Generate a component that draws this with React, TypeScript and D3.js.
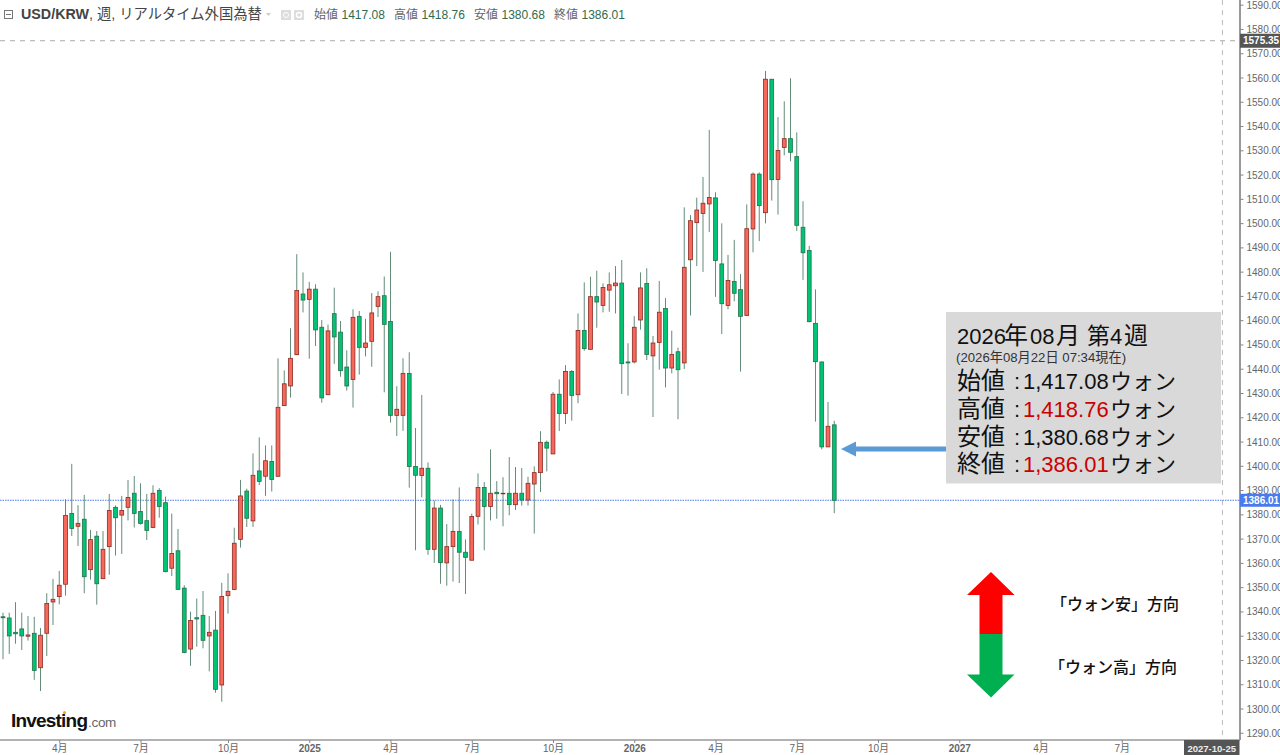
import React from "react";
import * as d3 from "d3";

const opens = [1338,1337.5,1331.6,1333,1330,1331.2,1317,1331.2,1344.1,1346.3,1351.4,1380.6,1375.3,1378.2,1357.4,1371.2,1353.7,1366.9,1383.1,1379.9,1383.1,1388.9,1381.4,1377.6,1374.8,1390,1385,1358,1365.2,1349.8,1324.7,1337.6,1338.6,1330.1,1332.5,1309.9,1346.7,1349.2,1369.9,1389.8,1377.5,1398.1,1395.9,1402,1395.9,1425,1433.1,1446,1471,1468.8,1473,1457.3,1429.5,1462.9,1455.3,1440.9,1435.8,1461.8,1449,1451.5,1465.9,1470.3,1459.7,1421,1421,1438.3,1399.9,1396.2,1399.2,1365.8,1382.8,1360.2,1366.9,1373.2,1364.6,1361.3,1379.4,1391.3,1383.4,1389.3,1388.7,1388.9,1384.2,1388.9,1386.1,1392.7,1397.4,1409.9,1405.1,1429.7,1421.8,1439.1,1429.5,1456,1448.2,1469.9,1466.3,1472.6,1474.4,1475.5,1443,1443,1460.3,1475.3,1445.5,1451,1465,1440.5,1447.2,1442.6,1485.1,1500.4,1504.2,1508.1,1510.6,1483.4,1466.3,1476.2,1472.8,1462.1,1497.8,1520.4,1504.5,1559.5,1518.2,1531.4,1535,1527.6,1498.5,1488.9,1458.9,1443,1408,1417.08];
const closes = [1337.6,1330.1,1331,1330.1,1330.5,1315.9,1330.4,1343.5,1345.2,1351,1379.7,1374.4,1376.5,1354.5,1369.8,1351.6,1365.8,1381.8,1378.8,1381.8,1387.2,1380.6,1376.4,1373.6,1388.9,1383.4,1356.6,1364.1,1349.3,1323.3,1336.5,1337.1,1328.3,1331.6,1308.1,1346.4,1348.5,1368.3,1387.8,1378.6,1396.3,1393.8,1402.3,1394.6,1424.3,1434,1444.5,1472.4,1468.5,1473,1456.2,1428.2,1455.8,1453.3,1439.4,1433.1,1461.4,1449,1450.8,1463.2,1469.9,1458.5,1421,1423.5,1438.3,1399.9,1396.3,1399.2,1365.8,1382.8,1360.3,1366.9,1373.2,1364.6,1362.5,1379.3,1391.3,1383.4,1388.9,1388.7,1388.9,1384.2,1388.9,1386.1,1393,1397.4,1409.9,1407.5,1429.7,1421.8,1439.1,1429.2,1456,1448.5,1469.9,1467.7,1473.7,1474.8,1475.5,1442.3,1442.6,1457.3,1473.5,1446.1,1450.8,1463.5,1440.5,1446.1,1439.8,1482,1501.2,1505.6,1508.4,1510.8,1484.8,1467,1476.6,1471.3,1461.8,1497.9,1520.4,1507.4,1559.5,1518.1,1530.1,1535,1529.4,1499.3,1488,1459.6,1443.1,1408,1416.5,1386.01];
const highs = [1339.7,1339.7,1344,1339.7,1338.3,1338,1333.4,1347.7,1353.6,1356.9,1386.4,1401,1384,1388.2,1373.8,1373.3,1373.3,1388.6,1383.9,1387.8,1394.4,1396,1393,1388.6,1392.2,1391,1387.5,1380.5,1374.2,1351,1340.1,1345.5,1348.6,1338.3,1340.4,1352,1355.9,1374.7,1394.4,1390.8,1405.3,1411.9,1408.6,1408.6,1444.5,1439.5,1456.9,1487.4,1479.9,1476,1475,1460.3,1458.4,1473.6,1459.9,1447.8,1464.7,1464,1460.8,1471.4,1472.1,1478.2,1488.4,1433,1444.5,1447,1415.8,1429.4,1401.6,1385.9,1384.1,1376.2,1386.4,1391.3,1369.9,1380.5,1397.1,1393.5,1407,1393.9,1395.5,1403.8,1399.7,1399.3,1395.7,1400,1414.5,1410.6,1430.6,1435.8,1441.7,1439.7,1463,1475.8,1478.1,1480.6,1475.4,1479.9,1482.5,1485,1450.7,1461.9,1479.9,1481.6,1453.7,1476.4,1469.3,1455.9,1448.9,1506.7,1503.5,1510.7,1519.2,1538.6,1512.9,1500.1,1487.1,1493.3,1479.2,1507.9,1521.1,1521.1,1562.9,1559.5,1543.9,1550.4,1559.9,1537.6,1509.2,1490.8,1472.9,1443.1,1426.5,1418.76];
const lows = [1320.5,1322.7,1326.9,1324.3,1328.2,1312,1307.4,1321.8,1334.6,1343.1,1346.7,1371.3,1367.2,1347.7,1353.3,1343,1353.7,1355.3,1363.2,1363.9,1377.7,1374.8,1376,1369.6,1374.5,1378.8,1356.3,1354.8,1349,1323,1317.8,1325.7,1325,1315.5,1306.7,1303,1339.3,1349,1366.5,1375,1375,1392.3,1387.8,1389.6,1395.6,1424.9,1428.3,1445.8,1463.4,1444.3,1449.6,1426.2,1429.3,1442.2,1436.9,1431.2,1424.2,1437.8,1445.3,1441,1461.5,1430.5,1418,1412.5,1414.6,1391.2,1365.4,1387.2,1363.5,1360.2,1351.6,1350.8,1352.5,1351.9,1347.4,1361.3,1376,1365.4,1377.7,1378.4,1375.3,1379.8,1382,1383.8,1383.8,1372.3,1389.4,1397.9,1405.1,1414.5,1417.4,1418.8,1426,1447.6,1448.2,1457.1,1463.4,1463.7,1463,1429.8,1429.1,1442.4,1456.3,1443.8,1420.3,1439.8,1432.5,1438.3,1419.4,1440.1,1462.1,1482.5,1480.1,1496.5,1469.8,1454.5,1464.7,1468,1439,1462.1,1488.2,1492.8,1500.1,1509.5,1503.7,1528.1,1525.7,1497,1476.8,1459.3,1418.4,1407,1408,1380.68];

const priceTicks = d3.range(1290, 1600, 10);
const timeIdx = [9, 22, 36, 49, 62, 75, 88, 101, 114, 127, 140, 153, 166, 179];
const timeLabels = ["4月", "7月", "10月", "2025", "4月", "7月", "10月", "2026", "4月", "7月", "10月", "2027", "4月", "7月"];
const crossPrice = 1575.35;
const lastPrice = 1386.01;
const crossIdx = 195;
const crossLabel = "2027-10-25";
const infoLines = [
  ["始値", "1,417.08", "#111"],
  ["高値", "1,418.76", "#cc0000"],
  ["安値", "1,380.68", "#111"],
  ["終値", "1,386.01", "#cc0000"],
];
const ohlcLegend = [
  ["始値", "1417.08"],
  ["高値", "1418.76"],
  ["安値", "1380.68"],
  ["終値", "1386.01"],
];

const FONT = '"Liberation Sans", "Noto Sans CJK JP", sans-serif';
const xScale = d3.scaleLinear().domain([0, 133]).range([3, 834.25]);
const yScale = d3.scaleLinear().domain([1560, 1300]).range([78, 709]);
const AX = 1240;
const AY = 740;

export default function App() {
  const up = d3.line()([[991, 572], [1014.5, 595], [1002.5, 595], [1002.5, 634], [979.5, 634], [979.5, 595], [967, 595]]) + "Z";
  const down = d3.line()([[979.5, 634], [1002.5, 634], [1002.5, 674.5], [1014.5, 674.5], [991, 697.5], [967, 674.5], [979.5, 674.5]]) + "Z";
  const blue = d3.line()([[946, 446.5], [856, 446.5], [856, 441.5], [841, 449], [856, 456.5], [856, 451.5], [946, 451.5]]) + "Z";
  const crossX = xScale(crossIdx) + 0.7;
  return (
    <svg width={1280} height={755} style={{ position: "absolute", left: 0, top: 0, background: "#fff" }} fontFamily={FONT}>
      {/* cross lines */}
      <line x1={0} x2={AX} y1={yScale(crossPrice)} y2={yScale(crossPrice)} stroke="#aaa" strokeDasharray="5 5" />
      <line x1={crossX} x2={crossX} y1={0} y2={AY} stroke="#bbb" strokeDasharray="5 5" />
      <line x1={0} x2={AX} y1={yScale(lastPrice)} y2={yScale(lastPrice)} stroke="#4a7bec" strokeDasharray="1.5 1" />

      {/* candles */}
      <g>
        {opens.map((o, i) => {
          const c = closes[i];
          const x = xScale(i);
          const isUp = c >= o;
          const top = yScale(Math.max(o, c));
          const bot = yScale(Math.min(o, c));
          return (
            <g key={i}>
              <line x1={x} x2={x} y1={yScale(highs[i])} y2={yScale(lows[i])} stroke="#3f6f57" strokeOpacity={0.8} strokeWidth={1} />
              <rect x={x - 1.9} y={top} width={3.8} height={Math.max(bot - top, 0.6)}
                fill={isUp ? "#f8685a" : "#00c474"} stroke={isUp ? "#8c2a22" : "#22704c"} strokeWidth={0.8} />
            </g>
          );
        })}
      </g>

      {/* right axis */}
      <line x1={AX} x2={AX} y1={0} y2={AY} stroke="#999" strokeWidth={2} />
      {priceTicks.map((p) => (
        <g key={p}>
          <line x1={AX} x2={AX + 3.5} y1={yScale(p)} y2={yScale(p)} stroke="#888" />
          <text x={AX + 6.5} y={yScale(p) + 3.5} fontSize={10} fill="#666">{p.toFixed(2)}</text>
        </g>
      ))}
      <rect x={AX} y={yScale(crossPrice) - 7} width={40} height={14} fill="#555" />
      <text x={AX + 3} y={yScale(crossPrice) + 3.5} fontSize={10} fontWeight="bold" fill="#fff">{crossPrice.toFixed(2)}</text>
      <rect x={AX} y={yScale(lastPrice) - 6.5} width={40} height={13} fill="#4a7bec" />
      <text x={AX + 3} y={yScale(lastPrice) + 3.5} fontSize={10} fontWeight="bold" fill="#fff">{lastPrice.toFixed(2)}</text>

      {/* bottom axis */}
      <line x1={0} x2={AX} y1={AY} y2={AY} stroke="#999" strokeWidth={1.5} />
      {timeIdx.map((t, i) => (
        <g key={i}>
          <line x1={xScale(t) + 0.5} x2={xScale(t) + 0.5} y1={AY} y2={AY + 3} stroke="#888" />
          <text x={xScale(t) + 0.5} y={AY + 12} fontSize={10} fill="#666" textAnchor="middle" fontWeight={timeLabels[i].length === 4 ? "bold" : "normal"}>{timeLabels[i]}</text>
        </g>
      ))}
      <rect x={1184} y={AY} width={55.5} height={15} fill="#555" />
      <text x={1211.7} y={AY + 12} fontSize={9.5} fontWeight="bold" fill="#eee" textAnchor="middle">{crossLabel}</text>

      {/* title legend */}
      <rect x={4.5} y={10.5} width={8} height={8} fill="none" stroke="#777" />
      <line x1={6} x2={11} y1={14.5} y2={14.5} stroke="#777" />
      <text x={21} y={19} fontSize={14.3} fill="#444">
        <tspan fontWeight="bold">USD/KRW</tspan>, 週, リアルタイム外国為替
      </text>
      <path d="M266 13h5l-2.5 3z" fill="#ccc" />
      <rect x={281} y={10} width={10} height={10} fill="#ddd" />
      <circle cx={286} cy={15} r={2.5} fill="none" stroke="#fff" />
      <rect x={294} y={10} width={10} height={10} fill="#ddd" />
      <circle cx={299} cy={15} r={2.5} fill="none" stroke="#fff" strokeWidth={1.5} />
      {ohlcLegend.map(([k, v], i) => (
        <text key={k} y={19} fontSize={12}>
          <tspan x={314 + i * 80} fill="#666">{k}</tspan>
          <tspan x={341.5 + i * 80} fill="#2e6b50">{v}</tspan>
        </text>
      ))}

      {/* info panel */}
      <rect x={946} y={312} width={275} height={171.5} fill="#d9d9d9" />
      <text y={344} fontSize={22} fill="#111">
        <tspan x={957}>2026</tspan>
        <tspan x={1004} fontSize={24}>年</tspan>
        <tspan x={1030}>08</tspan>
        <tspan x={1056} fontSize={24}>月</tspan>
        <tspan x={1087} fontSize={23}>第</tspan>
        <tspan x={1110}>4</tspan>
        <tspan x={1124} fontSize={24}>週</tspan>
      </text>
      <text x={956} y={362} fontSize={13.2} fill="#333">(2026年08月22日 07:34現在)</text>
      {infoLines.map(([k, v, col], i) => (
        <text key={k} y={389 + i * 27.8} fontSize={22} fill="#111">
          <tspan x={957} fontSize={24}>{k}</tspan>
          <tspan x={1014}>:</tspan>
          <tspan x={1023} fill={col}>{v}</tspan>
          <tspan x={1110}>ウォン</tspan>
        </text>
      ))}
      <path d={blue} fill="#5b9bd5" />

      {/* direction arrows */}
      <path d={up} fill="#ff0000" />
      <path d={down} fill="#00b050" />
      <text x={1051} y={610} fontSize={16} fontWeight={500} fill="#111">「ウォン安」方向</text>
      <text x={1049} y={673} fontSize={16} fontWeight={500} fill="#111">「ウォン高」方向</text>

      {/* logo */}
      <text x={11} y={727} fontSize={19} fontWeight="bold" fill="#111" letterSpacing={-0.8}>Investing</text>
      <text x={88} y={727} fontSize={13.5} fill="#666" letterSpacing={-0.3}>.com</text>
      <circle cx={64.5} cy={712.5} r={1.6} fill="#f5a623" />
    </svg>
  );
}
